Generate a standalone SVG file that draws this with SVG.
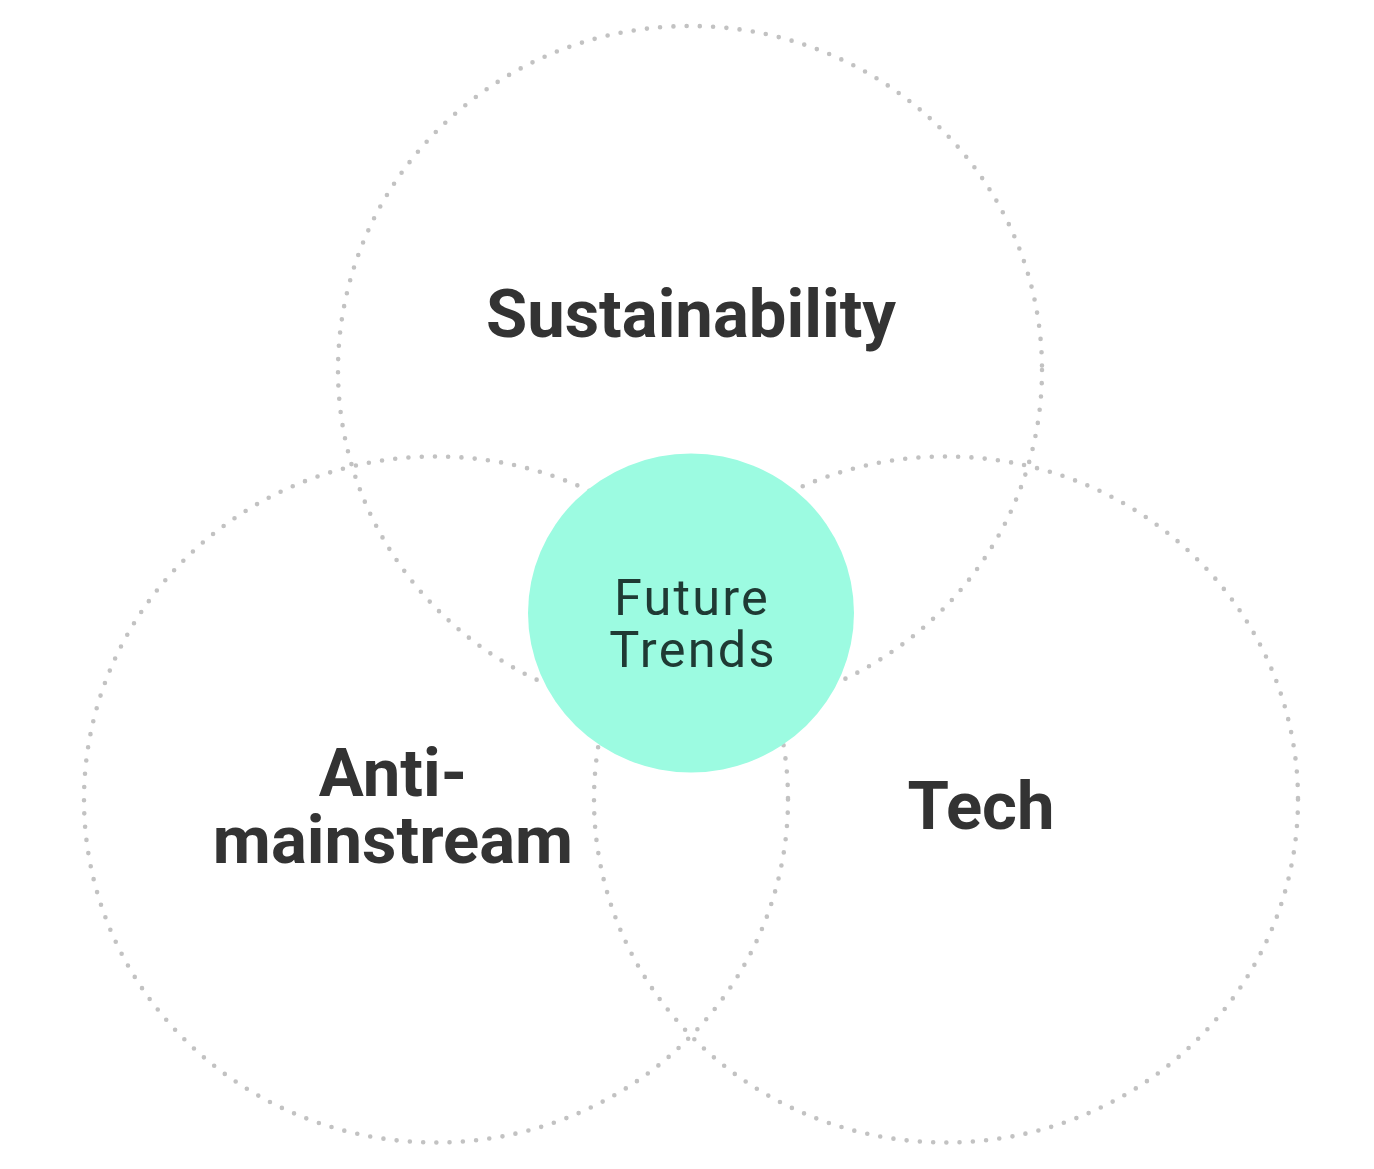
<svg xmlns="http://www.w3.org/2000/svg" width="1374" height="1169" viewBox="0 0 1374 1169">
<style>
.ring{fill:none;stroke:#c2c2c2;stroke-width:4.6;stroke-linecap:round;stroke-dasharray:0 13.3}
.lbl{font-family:Roboto,"Liberation Sans",sans-serif;font-weight:700;font-size:67px;fill:#333333;text-anchor:middle}
.core{font-family:Roboto,"Liberation Sans",sans-serif;font-weight:400;font-size:50.5px;fill:#1f3a34;text-anchor:middle;letter-spacing:2.2px}
</style>
<rect width="1374" height="1169" fill="#ffffff"/>
<g id="sustainability">
<ellipse class="ring" cx="690" cy="370" rx="352" ry="344"/>
<text class="lbl" x="691" y="337">Sustainability</text>
</g>
<g id="anti-mainstream">
<ellipse class="ring" cx="436" cy="799.5" rx="352" ry="343"/>
<text class="lbl" x="393" y="796">Anti-</text>
<text class="lbl" x="393" y="863">mainstream</text>
</g>
<g id="tech">
<ellipse class="ring" cx="946" cy="799.5" rx="352" ry="343"/>
<text class="lbl" x="981" y="829">Tech</text>
</g>
<g id="future-trends">
<ellipse cx="691" cy="613" rx="163" ry="159.5" fill="#9cfbe1"/>
<text class="core" x="692" y="615">Future</text>
<text class="core" x="693" y="667">Trends</text>
</g>
<g id="connectors"/>
</svg>
